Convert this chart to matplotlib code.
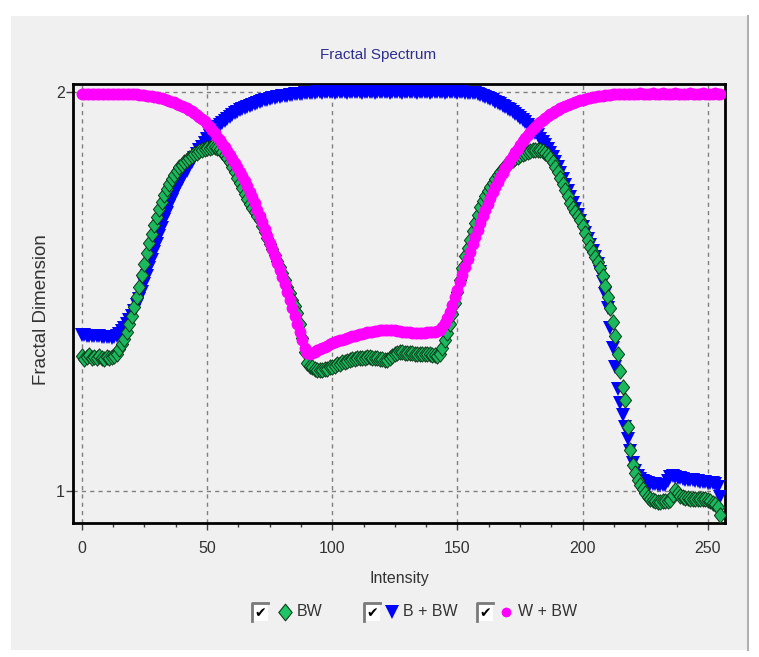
import numpy as np
from matplotlib import pyplot as plt
from matplotlib.patches import Rectangle
from matplotlib.lines import Line2D
from matplotlib.path import Path
from matplotlib.ticker import MultipleLocator

# intensity axis 0..255
intensity = np.arange(256)

# BW (green diamonds)
bw = [
    1.338, 1.332, 1.336, 1.341, 1.334, 1.337, 1.333, 1.339, 1.335, 1.332,
    1.337, 1.334, 1.336, 1.340, 1.345, 1.356, 1.368, 1.382, 1.398, 1.418,
    1.440, 1.462, 1.486, 1.513, 1.541, 1.569, 1.597, 1.621, 1.645, 1.667,
    1.688, 1.707, 1.725, 1.742, 1.757, 1.771, 1.783, 1.794, 1.804, 1.812,
    1.819, 1.825, 1.831, 1.836, 1.841, 1.845, 1.849, 1.852, 1.855, 1.858,
    1.860, 1.861, 1.862, 1.862, 1.861, 1.857, 1.851, 1.844, 1.835, 1.825,
    1.813, 1.800, 1.786, 1.772, 1.759, 1.746, 1.733, 1.720, 1.710, 1.700,
    1.690, 1.680, 1.666, 1.651, 1.636, 1.620, 1.606, 1.591, 1.577, 1.562,
    1.546, 1.530, 1.513, 1.496, 1.479, 1.463, 1.446, 1.420, 1.385, 1.350,
    1.322, 1.315, 1.310, 1.306, 1.304, 1.303, 1.304, 1.305, 1.307, 1.310,
    1.312, 1.315, 1.318, 1.320, 1.323, 1.325, 1.327, 1.330, 1.331, 1.332,
    1.333, 1.334, 1.335, 1.335, 1.336, 1.336, 1.335, 1.334, 1.333, 1.332,
    1.331, 1.330, 1.330, 1.333, 1.338, 1.343, 1.346, 1.348, 1.348, 1.347,
    1.347, 1.346, 1.346, 1.345, 1.345, 1.345, 1.345, 1.344, 1.344, 1.343,
    1.342, 1.341, 1.340, 1.345, 1.360, 1.378, 1.397, 1.420, 1.445, 1.472,
    1.500, 1.530, 1.560, 1.590, 1.610, 1.630, 1.652, 1.673, 1.693, 1.713,
    1.727, 1.740, 1.752, 1.763, 1.773, 1.783, 1.792, 1.800, 1.808, 1.815,
    1.821, 1.826, 1.831, 1.835, 1.838, 1.842, 1.845, 1.848, 1.851, 1.853,
    1.855, 1.856, 1.856, 1.855, 1.853, 1.849, 1.843, 1.835, 1.825, 1.813,
    1.800, 1.786, 1.771, 1.755, 1.739, 1.722, 1.711, 1.700, 1.690, 1.680,
    1.665, 1.648, 1.630, 1.612, 1.599, 1.587, 1.575, 1.560, 1.540, 1.515,
    1.488, 1.460, 1.425, 1.390, 1.345, 1.300, 1.260, 1.228, 1.160, 1.103,
    1.065, 1.045, 1.028, 1.015, 1.005, 0.995, 0.985, 0.981, 0.977, 0.975,
    0.973, 0.973, 0.974, 0.975, 0.976, 0.977, 0.990, 1.003, 0.995, 0.988,
    0.985, 0.983, 0.982, 0.980, 0.980, 0.981, 0.980, 0.980, 0.979, 0.980,
    0.978, 0.976, 0.970, 0.968, 0.960, 0.940,
]

# B + BW (blue triangles)
b_bw = [
    1.392, 1.391, 1.390, 1.390, 1.389, 1.389, 1.388, 1.388, 1.387, 1.387,
    1.386, 1.386, 1.385, 1.386, 1.389, 1.395, 1.402, 1.410, 1.419, 1.429,
    1.440, 1.452, 1.466, 1.482, 1.500, 1.520, 1.540, 1.560, 1.580, 1.600,
    1.620, 1.640, 1.660, 1.680, 1.698, 1.715, 1.730, 1.745, 1.758, 1.770,
    1.782, 1.793, 1.804, 1.815, 1.825, 1.835, 1.845, 1.855, 1.864, 1.873,
    1.882, 1.890, 1.898, 1.905, 1.912, 1.918, 1.924, 1.929, 1.934, 1.939,
    1.944, 1.948, 1.952, 1.955, 1.958, 1.961, 1.964, 1.967, 1.969, 1.972,
    1.974, 1.976, 1.978, 1.980, 1.982, 1.984, 1.985, 1.987, 1.988, 1.989,
    1.990, 1.991, 1.992, 1.993, 1.994, 1.995, 1.996, 1.997, 1.997, 1.998,
    1.998, 1.999, 1.999, 1.999, 2.000, 2.000, 1.999, 2.000, 2.000, 2.000,
    2.000, 1.999, 2.000, 2.000, 2.000, 2.000, 1.999, 2.000, 2.000, 2.000,
    2.000, 2.000, 1.999, 2.000, 2.000, 2.000, 2.000, 1.999, 2.000, 2.000,
    2.000, 2.000, 2.000, 1.999, 2.000, 2.000, 2.000, 2.000, 1.999, 2.000,
    2.000, 2.000, 2.000, 2.000, 1.999, 2.000, 2.000, 2.000, 2.000, 1.999,
    2.000, 2.000, 2.000, 2.000, 2.000, 1.999, 2.000, 2.000, 2.000, 2.000,
    1.999, 2.000, 2.000, 1.999, 1.999, 1.999, 1.999, 1.998, 1.996, 1.994,
    1.992, 1.989, 1.986, 1.983, 1.980, 1.977, 1.974, 1.971, 1.967, 1.963,
    1.959, 1.955, 1.951, 1.946, 1.941, 1.936, 1.931, 1.925, 1.919, 1.913,
    1.906, 1.899, 1.892, 1.884, 1.876, 1.867, 1.858, 1.848, 1.837, 1.825,
    1.812, 1.798, 1.783, 1.768, 1.752, 1.737, 1.722, 1.707, 1.692, 1.677,
    1.662, 1.647, 1.632, 1.617, 1.602, 1.587, 1.570, 1.550, 1.525, 1.495,
    1.460, 1.410, 1.360, 1.310, 1.255, 1.220, 1.190, 1.160, 1.130, 1.100,
    1.070, 1.050, 1.038, 1.030, 1.025, 1.022, 1.020, 1.019, 1.018, 1.017,
    1.016, 1.015, 1.015, 1.016, 1.025, 1.035, 1.037, 1.036, 1.034, 1.032,
    1.030, 1.029, 1.028, 1.027, 1.027, 1.026, 1.025, 1.024, 1.023, 1.022,
    1.021, 1.020, 1.020, 1.018, 1.010, 0.985,
]

# W + BW (magenta circles)
w_bw = [
    1.996, 1.997, 1.995, 1.996, 1.997, 1.996, 1.995, 1.997, 1.996, 1.996,
    1.997, 1.996, 1.995, 1.996, 1.997, 1.996, 1.995, 1.996, 1.996, 1.995,
    1.996, 1.995, 1.995, 1.994, 1.994, 1.993, 1.992, 1.991, 1.990, 1.989,
    1.988, 1.987, 1.985, 1.983, 1.981, 1.979, 1.977, 1.975, 1.972, 1.969,
    1.967, 1.964, 1.961, 1.957, 1.953, 1.949, 1.944, 1.939, 1.933, 1.927,
    1.920, 1.913, 1.905, 1.897, 1.889, 1.880, 1.871, 1.862, 1.852, 1.842,
    1.833, 1.823, 1.812, 1.801, 1.790, 1.778, 1.765, 1.751, 1.737, 1.722,
    1.706, 1.690, 1.674, 1.657, 1.640, 1.623, 1.606, 1.589, 1.572, 1.555,
    1.537, 1.519, 1.500, 1.480, 1.460, 1.440, 1.420, 1.400, 1.378, 1.360,
    1.347, 1.344, 1.346, 1.350, 1.353, 1.356, 1.359, 1.362, 1.365, 1.368,
    1.371, 1.374, 1.376, 1.378, 1.380, 1.382, 1.384, 1.386, 1.388, 1.390,
    1.392, 1.393, 1.395, 1.396, 1.398, 1.399, 1.400, 1.401, 1.402, 1.403,
    1.404, 1.404, 1.405, 1.405, 1.404, 1.403, 1.402, 1.401, 1.400, 1.399,
    1.398, 1.398, 1.397, 1.397, 1.397, 1.396, 1.397, 1.397, 1.398, 1.398,
    1.399, 1.400, 1.402, 1.405, 1.412, 1.422, 1.435, 1.450, 1.467, 1.486,
    1.505, 1.524, 1.543, 1.562, 1.581, 1.600, 1.619, 1.637, 1.655, 1.672,
    1.689, 1.705, 1.720, 1.735, 1.749, 1.763, 1.776, 1.788, 1.799, 1.810,
    1.820, 1.830, 1.840, 1.850, 1.859, 1.868, 1.877, 1.885, 1.893, 1.900,
    1.907, 1.914, 1.920, 1.926, 1.931, 1.936, 1.941, 1.945, 1.949, 1.953,
    1.956, 1.960, 1.963, 1.966, 1.969, 1.971, 1.974, 1.976, 1.978, 1.980,
    1.982, 1.984, 1.985, 1.987, 1.988, 1.989, 1.990, 1.991, 1.992, 1.993,
    1.994, 1.994, 1.995, 1.995, 1.996, 1.996, 1.996, 1.997, 1.997, 1.997,
    1.997, 1.996, 1.997, 1.998, 1.997, 1.996, 1.997, 1.997, 1.998, 1.997,
    1.996, 1.997, 1.998, 1.997, 1.997, 1.996, 1.997, 1.998, 1.997, 1.997,
    1.996, 1.997, 1.997, 1.998, 1.997, 1.996, 1.997, 1.997, 1.998, 1.997,
    1.997, 1.996, 1.997, 1.998, 1.997, 1.997,
]

x_ticks = [0, 50, 100, 150, 200, 250]
y_ticks = [1, 2]
labels = ['BW', 'B + BW', 'W + BW']

FONT = ['Liberation Sans Narrow', 'Liberation Sans', 'DejaVu Sans']
plt.rcParams['font.family'] = FONT

# diamond a bit taller than wide
diamond = Path([(0, 1), (0.8, 0), (0, -1), (-0.8, 0), (0, 1)],
               [Path.MOVETO, Path.LINETO, Path.LINETO, Path.LINETO, Path.CLOSEPOLY])

W, H = 759, 657
fig = plt.figure(figsize=(W / 100, H / 100), dpi=100, facecolor='white')

# grey panel behind everything
fig.patches.append(Rectangle((11 / W, 7 / H), 737 / W, 634 / H, transform=fig.transFigure,
                             facecolor='#f0f0f0', edgecolor='none', zorder=-10))
fig.add_artist(Line2D([748 / W, 748 / W], [7 / H, 641 / H], color='#b0b0b0', lw=1.5))

ax = fig.add_axes([73 / W, 1 - 523 / H, 652 / W, 439 / H])
ax.set_facecolor('#f0f0f0')

ax.plot(intensity, b_bw, linestyle='none', marker='v', markersize=9.5,
        color='#0000ff', markeredgewidth=0, zorder=3)
ax.plot(intensity, bw, linestyle='none', marker=diamond, markersize=11,
        markerfacecolor='#1cb85e', markeredgecolor='#0a3a1a', markeredgewidth=0.7, zorder=4)
ax.plot(intensity, w_bw, linestyle='none', marker='o', markersize=8.5,
        color='#ff00ff', markeredgewidth=0, zorder=5)

ax.set_xlim(-3.5, 256.8)
ax.set_ylim(0.92, 2.021)
ax.set_xticks(x_ticks)
ax.xaxis.set_minor_locator(MultipleLocator(12.5))
ax.set_yticks(y_ticks)
ax.grid(True, which='major', linestyle=(0, (3, 3)), color='#808080', linewidth=1)
ax.set_axisbelow(True)
for s in ax.spines.values():
    s.set_linewidth(2)
    s.set_color('black')
ax.tick_params(axis='both', which='major', direction='out', length=5, width=1,
               color='#404040', labelsize=11.5, labelcolor='#333333')
ax.tick_params(axis='x', which='major', pad=8)
ax.tick_params(axis='y', which='major', pad=1)
ax.tick_params(axis='x', which='minor', direction='out', length=3, width=1, color='#404040')

fig.text(378 / W, 1 - 55 / H, 'Fractal Spectrum', ha='center', va='center',
         fontsize=11, color='#2e2e8c')
fig.text(399 / W, 1 - 578 / H, 'Intensity', ha='center', va='center',
         fontsize=11.5, color='#333333')
fig.text(42 / W, 1 - 310 / H, 'Fractal Dimension', ha='center', va='center',
         rotation=90, fontsize=13.5, color='#333333')

# legend row with check boxes
leg = fig.add_axes([0, 0, 1, 1], facecolor='none')
leg.set_xlim(0, W)
leg.set_ylim(H, 0)
leg.axis('off')
box_x = [252, 364, 477]
mark_x = [285, 392, 506]
text_x = [297, 403, 518]
styles = [dict(marker=diamond, markersize=12, markerfacecolor='#1fc464',
               markeredgecolor='#0b3d1c', markeredgewidth=0.8),
          dict(marker='v', markersize=10, color='#0000ff', markeredgewidth=0),
          dict(marker='o', markersize=7, color='#ff00ff', markeredgewidth=0)]
ly = 612
for bx, mx, tx, st, lab in zip(box_x, mark_x, text_x, styles, labels):
    leg.add_patch(Rectangle((bx, ly - 9), 16, 18, facecolor='white', edgecolor='none'))
    leg.plot([bx, bx, bx + 16], [ly + 9, ly - 9, ly - 9], color='#7a7a7a', lw=2)
    leg.text(bx + 8.5, ly + 1, '\u2714', family='DejaVu Sans', fontsize=10,
             ha='center', va='center', color='black')
    leg.plot([mx], [ly], linestyle='none', **st)
    leg.text(tx, ly, lab, ha='left', va='center', fontsize=11.5, color='#333333')

fig.savefig('out.png', dpi=100, facecolor='white')
